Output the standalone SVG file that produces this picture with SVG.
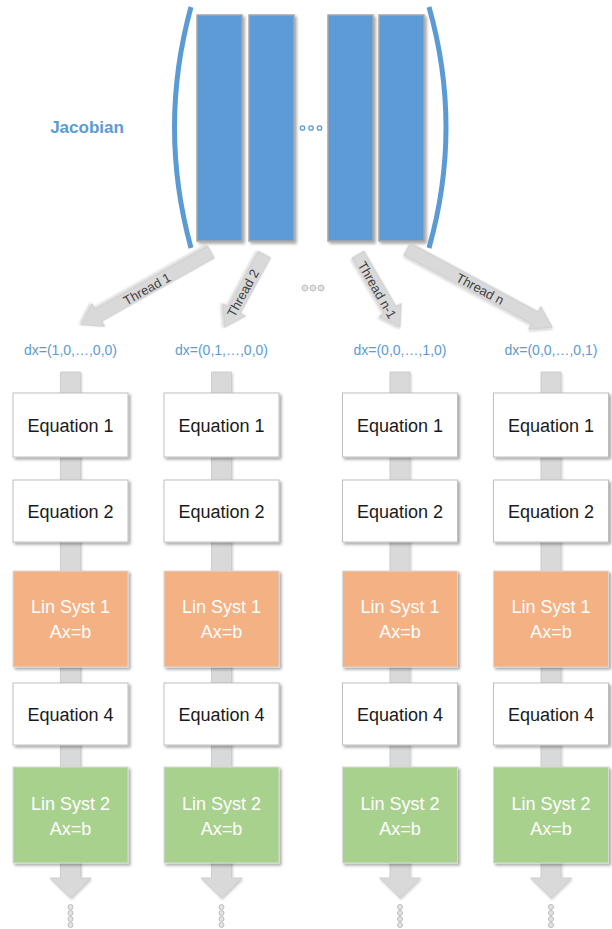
<svg xmlns="http://www.w3.org/2000/svg" width="612" height="929" viewBox="0 0 612 929">
<defs>
<filter id="sh" x="-20%" y="-20%" width="140%" height="140%">
<feDropShadow dx="2" dy="2" stdDeviation="1.5" flood-color="#000" flood-opacity="0.35"/>
</filter>
<filter id="sh2" x="-20%" y="-20%" width="140%" height="140%">
<feDropShadow dx="1" dy="1.5" stdDeviation="1" flood-color="#000" flood-opacity="0.2"/>
</filter>
</defs>
<style>
.col{fill:#5B9BD5;stroke:#A6A6A6;stroke-width:1.5;filter:url(#sh)}
.par{fill:none;stroke:#5B9BD5;stroke-width:5;stroke-linecap:butt}
.arr{fill:#D9D9D9;stroke:#C8C8C8;stroke-width:0.8;filter:url(#sh2)}
.eq{fill:#FFFFFF;stroke:#BFBFBF;stroke-width:1;filter:url(#sh)}
.l1{fill:#F4B183;stroke:#D9D9D9;stroke-width:1;filter:url(#sh)}
.l2{fill:#A9D18E;stroke:#D9D9D9;stroke-width:1;filter:url(#sh)}
.t{font-family:"Liberation Sans",Arial,sans-serif;font-size:18px;fill:#1A1A1A;text-anchor:middle}
.tw{font-family:"Liberation Sans",Arial,sans-serif;font-size:18px;fill:#FFFFFF;text-anchor:middle}
.dx{font-family:"Liberation Sans",Arial,sans-serif;font-size:14px;fill:#5B9BD5;text-anchor:middle}
.th{font-family:"Liberation Sans",Arial,sans-serif;font-size:13px;fill:#404040;text-anchor:middle;dominant-baseline:central}
.dot{fill:#E3E3E3;stroke:#BDBDBD;stroke-width:1}
.bd{fill:#FFFFFF;stroke:#5B9BD5;stroke-width:1.3}
</style>

<g id="jacobian">
<text x="87" y="133" style="font-family:'Liberation Sans',Arial,sans-serif;font-size:17px;font-weight:bold;fill:#5B9BD5;text-anchor:middle">Jacobian</text>
<path class="par" d="M191,7 Q158,127 191,248"/>
<path class="par" d="M429,7 Q463,127 429,248"/>
<rect class="col" x="197" y="15" width="45" height="226"/>
<rect class="col" x="249" y="15" width="45" height="226"/>
<rect class="col" x="328" y="15" width="45" height="226"/>
<rect class="col" x="379" y="15" width="45" height="226"/>
<circle class="bd" cx="302.5" cy="128" r="2.2"/>
<circle class="bd" cx="311" cy="128" r="2.2"/>
<circle class="bd" cx="319.5" cy="128" r="2.2"/>
</g>

<g id="connectors">
<polygon class="arr" transform="translate(211,252) rotate(150.7)" points="0,-7 129,-7 129,-13 149,0 129,13 129,7 0,7"/>
<polygon class="arr" transform="translate(264.5,254.5) rotate(118.6)" points="0,-7 63,-7 63,-13 83,0 63,13 63,7 0,7"/>
<polygon class="arr" transform="translate(358,254.5) rotate(59.9)" points="0,-7 64,-7 64,-13 84,0 64,13 64,7 0,7"/>
<polygon class="arr" transform="translate(407,249) rotate(28.3)" points="0,-7 145,-7 145,-13 165,0 145,13 145,7 0,7"/>
<text class="th" transform="translate(147,289) rotate(-29.3)">Thread 1</text>
<text class="th" transform="translate(243,293) rotate(-61.4)">Thread 2</text>
<text class="th" transform="translate(377,290) rotate(59.9)">Thread n-1</text>
<text class="th" transform="translate(480,289) rotate(28.3)">Thread n</text>
<circle class="dot" cx="305" cy="288" r="3"/>
<circle class="dot" cx="313" cy="288" r="3"/>
<circle class="dot" cx="321" cy="288" r="3"/>
<polygon class="arr" points="60.5,372 80.5,372 80.5,878 91,878 70.5,898 50,878 60.5,878"/>
<polygon class="arr" points="211.5,372 231.5,372 231.5,878 242,878 221.5,898 201,878 211.5,878"/>
<polygon class="arr" points="390,372 410,372 410,878 420.5,878 400,898 379.5,878 390,878"/>
<polygon class="arr" points="541,372 561,372 561,878 571.5,878 551,898 530.5,878 541,878"/>
<g>
<circle class="dot" cx="70.5" cy="907" r="2.5"/><circle class="dot" cx="70.5" cy="913" r="2.5"/><circle class="dot" cx="70.5" cy="919" r="2.5"/><circle class="dot" cx="70.5" cy="925" r="2.5"/>
<circle class="dot" cx="221.5" cy="907" r="2.5"/><circle class="dot" cx="221.5" cy="913" r="2.5"/><circle class="dot" cx="221.5" cy="919" r="2.5"/><circle class="dot" cx="221.5" cy="925" r="2.5"/>
<circle class="dot" cx="400" cy="907" r="2.5"/><circle class="dot" cx="400" cy="913" r="2.5"/><circle class="dot" cx="400" cy="919" r="2.5"/><circle class="dot" cx="400" cy="925" r="2.5"/>
<circle class="dot" cx="551" cy="907" r="2.5"/><circle class="dot" cx="551" cy="913" r="2.5"/><circle class="dot" cx="551" cy="919" r="2.5"/><circle class="dot" cx="551" cy="925" r="2.5"/>
</g>
</g>

<g id="dx-labels">
<text class="dx" x="70.5" y="355">dx=(1,0,…,0,0)</text>
<text class="dx" x="221.5" y="355">dx=(0,1,…,0,0)</text>
<text class="dx" x="400" y="355">dx=(0,0,…,1,0)</text>
<text class="dx" x="551" y="355">dx=(0,0,…,0,1)</text>
</g>

<g id="col1">
<g id="c1-eq1"><rect class="eq" x="13" y="393" width="115" height="64"/><text class="t" x="70.5" y="432">Equation 1</text></g>
<g id="c1-eq2"><rect class="eq" x="13" y="480" width="115" height="62"/><text class="t" x="70.5" y="518">Equation 2</text></g>
<g id="c1-ls1"><rect class="l1" x="13" y="571" width="115" height="96"/><text class="tw" x="70.5" y="613">Lin Syst 1</text><text class="tw" x="70.5" y="638">Ax=b</text></g>
<g id="c1-eq4"><rect class="eq" x="13" y="683" width="115" height="62"/><text class="t" x="70.5" y="721">Equation 4</text></g>
<g id="c1-ls2"><rect class="l2" x="13" y="767" width="115" height="96"/><text class="tw" x="70.5" y="810">Lin Syst 2</text><text class="tw" x="70.5" y="835">Ax=b</text></g>
</g>

<g id="col2">
<g id="c2-eq1"><rect class="eq" x="164" y="393" width="115" height="64"/><text class="t" x="221.5" y="432">Equation 1</text></g>
<g id="c2-eq2"><rect class="eq" x="164" y="480" width="115" height="62"/><text class="t" x="221.5" y="518">Equation 2</text></g>
<g id="c2-ls1"><rect class="l1" x="164" y="571" width="115" height="96"/><text class="tw" x="221.5" y="613">Lin Syst 1</text><text class="tw" x="221.5" y="638">Ax=b</text></g>
<g id="c2-eq4"><rect class="eq" x="164" y="683" width="115" height="62"/><text class="t" x="221.5" y="721">Equation 4</text></g>
<g id="c2-ls2"><rect class="l2" x="164" y="767" width="115" height="96"/><text class="tw" x="221.5" y="810">Lin Syst 2</text><text class="tw" x="221.5" y="835">Ax=b</text></g>
</g>

<g id="col3">
<g id="c3-eq1"><rect class="eq" x="342.5" y="393" width="115" height="64"/><text class="t" x="400" y="432">Equation 1</text></g>
<g id="c3-eq2"><rect class="eq" x="342.5" y="480" width="115" height="62"/><text class="t" x="400" y="518">Equation 2</text></g>
<g id="c3-ls1"><rect class="l1" x="342.5" y="571" width="115" height="96"/><text class="tw" x="400" y="613">Lin Syst 1</text><text class="tw" x="400" y="638">Ax=b</text></g>
<g id="c3-eq4"><rect class="eq" x="342.5" y="683" width="115" height="62"/><text class="t" x="400" y="721">Equation 4</text></g>
<g id="c3-ls2"><rect class="l2" x="342.5" y="767" width="115" height="96"/><text class="tw" x="400" y="810">Lin Syst 2</text><text class="tw" x="400" y="835">Ax=b</text></g>
</g>

<g id="col4">
<g id="c4-eq1"><rect class="eq" x="493.5" y="393" width="115" height="64"/><text class="t" x="551" y="432">Equation 1</text></g>
<g id="c4-eq2"><rect class="eq" x="493.5" y="480" width="115" height="62"/><text class="t" x="551" y="518">Equation 2</text></g>
<g id="c4-ls1"><rect class="l1" x="493.5" y="571" width="115" height="96"/><text class="tw" x="551" y="613">Lin Syst 1</text><text class="tw" x="551" y="638">Ax=b</text></g>
<g id="c4-eq4"><rect class="eq" x="493.5" y="683" width="115" height="62"/><text class="t" x="551" y="721">Equation 4</text></g>
<g id="c4-ls2"><rect class="l2" x="493.5" y="767" width="115" height="96"/><text class="tw" x="551" y="810">Lin Syst 2</text><text class="tw" x="551" y="835">Ax=b</text></g>
</g>
</svg>
